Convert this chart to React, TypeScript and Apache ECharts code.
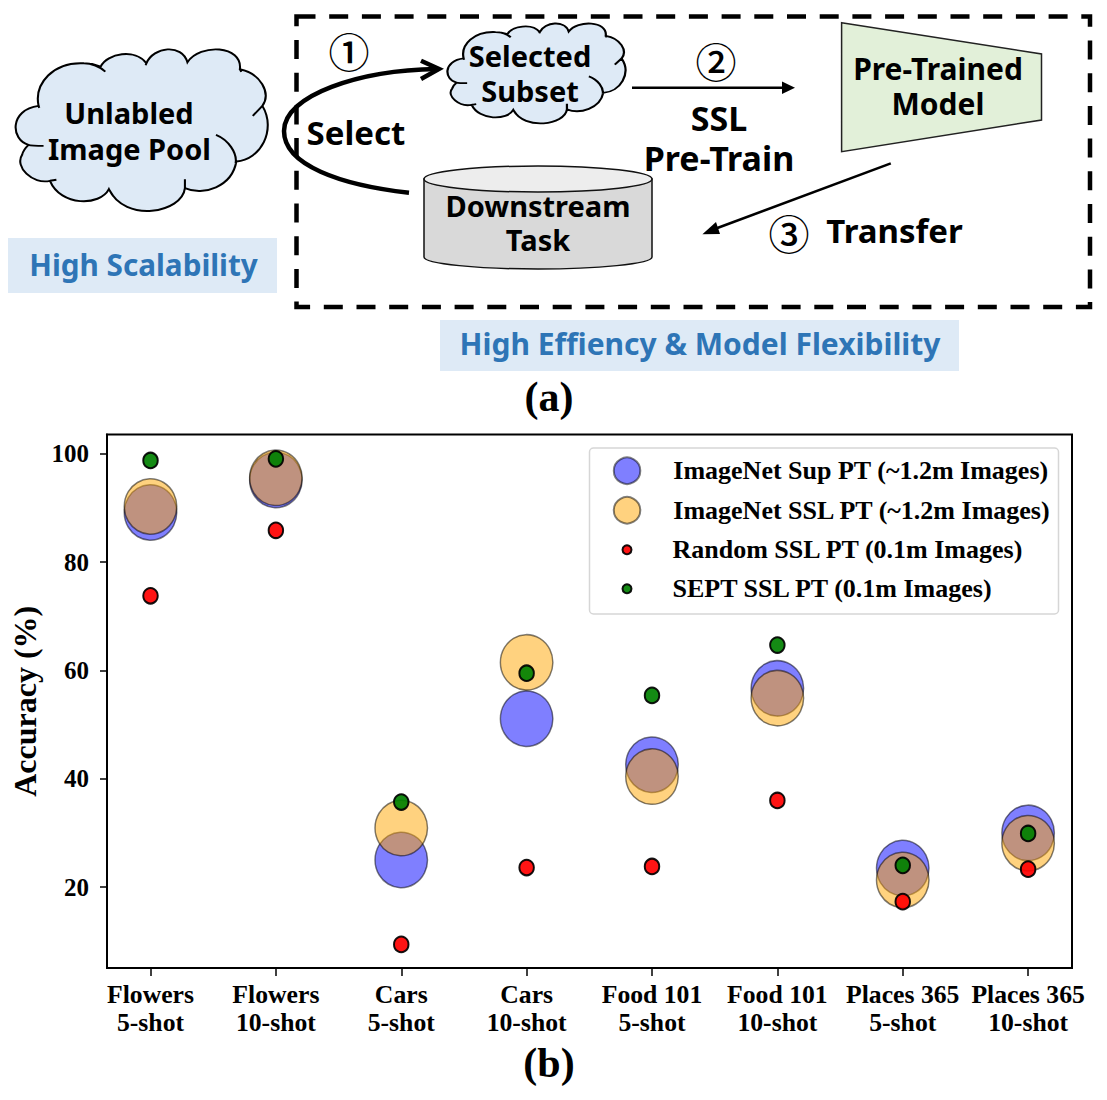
import React, { useEffect, useRef } from "react";
import * as echarts from "echarts";

const categories = [
  "Flowers\n5-shot", "Flowers\n10-shot", "Cars\n5-shot", "Cars\n10-shot",
  "Food 101\n5-shot", "Food 101\n10-shot", "Places 365\n5-shot", "Places 365\n10-shot",
];
const yTicks = [20, 40, 60, 80, 100];
const supValues = [89.2, 95.2, 25.0, 51.1, 42.6, 56.7, 23.5, 30.0];
const sslValues = [90.3, 95.6, 30.9, 61.5, 40.4, 54.9, 21.3, 28.1];
const randomValues = [73.8, 85.9, 9.4, 23.6, 23.8, 36.0, 17.3, 23.3];
const septValues = [98.8, 99.1, 35.7, 59.5, 55.4, 64.7, 24.0, 29.9];
const seriesNames = [
  "ImageNet Sup PT (~1.2m Images)",
  "ImageNet SSL PT (~1.2m Images)",
  "Random SSL PT (0.1m Images)",
  "SEPT SSL PT (0.1m Images)",
];

const CLOUD_D =
  "M108,318 C95,250 150,185 235,190 C255,190 270,195 282,200 C300,160 380,145 410,190 C430,140 510,130 525,187 " +
  "C560,130 680,135 672,208 C730,220 760,280 735,318 C775,390 730,480 662,485 C650,560 570,590 518,565 " +
  "C510,640 350,670 305,568 C280,620 170,620 140,543 C90,555 40,500 62,465 C65,450 75,440 80,435 C30,420 25,330 108,318 Z " +
  "M235,190 C255,190 280,200 295,215 M410,190 L408,196 M672,208 L676,216 M735,318 L708,348 " +
  "M605,405 C640,420 665,460 660,490 M518,565 L518,538 M305,568 L318,590 M140,543 L158,540 " +
  "M78,435 C90,438 105,438 122,438 M108,318 L110,324";
const ARC_D = "M409,192.7 C340,185 284,165 284,131 C284,95 360,70 437,69";
const CYL_D = "M424,179 L424,257 C424,264 480,269 538,269 C596,269 652,264 652,257 L652,179 Z";

echarts.graphic.registerShape("cloudShape", echarts.graphic.extendPath(CLOUD_D as any, {}) as any);
echarts.graphic.registerShape("arcShape", echarts.graphic.extendPath(ARC_D as any, {}) as any);
echarts.graphic.registerShape("cylShape", echarts.graphic.extendPath(CYL_D as any, {}) as any);

const SANS = '"Noto Sans", "Open Sans", sans-serif';
const SERIF = '"Liberation Serif", serif';

function label(text: string, x: number, y: number, size = 29, fill = "#000", family = SANS) {
  return {
    type: "text",
    x,
    y,
    style: {
      text,
      fill,
      font: `bold ${size}px ${family}`,
      lineHeight: Math.min(size, 30),
      textAlign: "center",
      textVerticalAlign: "middle",
    },
  };
}
function circled(text: string, x: number, y: number) {
  return {
    type: "text",
    x,
    y,
    style: { text, fill: "#000", font: `500 41px "Noto Sans CJK SC"`, textAlign: "center", textVerticalAlign: "middle" },
  };
}
function line(x1: number, y1: number, x2: number, y2: number, lineWidth = 2.5) {
  return { type: "line", shape: { x1, y1, x2, y2 }, style: { stroke: "#000", lineWidth } };
}
function polygon(points: number[][], fill: string, stroke?: string, lineWidth = 1) {
  return { type: "polygon", shape: { points }, style: { fill, stroke, lineWidth } };
}
function cloud(x: number, y: number, scaleX: number, scaleY: number) {
  return {
    type: "cloudShape",
    x,
    y,
    scaleX,
    scaleY,
    style: { fill: "#DEEAF6", stroke: "#000", lineWidth: 2, strokeNoScale: true },
  };
}

const diagram: any[] = [
  cloud(0, 0, 1 / 2.8, 1 / 3),
  cloud(436.4, -7.05, 0.706 / 2.8, 0.618 / 3),
  label("Unlabled", 129, 112),
  label("Image Pool", 129.5, 148),
  label("Selected", 530, 55.5),
  label("Subset", 530, 90),
  { type: "rect", shape: { x: 8, y: 238, width: 269, height: 55 }, style: { fill: "#DEEAF6" } },
  label("High Scalability", 143.5, 264.5, 29.7, "#2E75B6"),
  { type: "rect", shape: { x: 440, y: 320, width: 519, height: 51 }, style: { fill: "#DEEAF6" } },
  label("High Effiency & Model Flexibility", 700, 343.5, 30, "#2E75B6"),
  {
    type: "rect",
    shape: { x: 296.5, y: 16.5, width: 793.5, height: 290.5 },
    style: { fill: "none", stroke: "#000", lineWidth: 4.5, lineDash: [19, 13.7] },
  },
  circled("①", 349, 50),
  circled("②", 716, 59.5),
  circled("③", 789, 232),
  { type: "arcShape", style: { fill: "none", stroke: "#000", lineWidth: 4.5 } },
  { type: "polyline", shape: { points: [[421, 60.7], [439, 69], [421, 79]] }, style: { fill: "none", stroke: "#000", lineWidth: 4.5 } },
  label("Select", 356, 132, 33),
  { type: "cylShape", style: { fill: "#D9D9D9", stroke: "#111", lineWidth: 1.5 } },
  { type: "ellipse", shape: { cx: 538, cy: 179, rx: 114, ry: 13 }, style: { fill: "#EDEDED", stroke: "#111", lineWidth: 1.5 } },
  label("Downstream", 538, 205),
  label("Task", 538, 239),
  line(632, 87.7, 785, 87.7),
  polygon([[795, 87.7], [782, 81.5], [782, 94]], "#000"),
  label("SSL", 719, 117.5, 34),
  label("Pre-Train", 719, 157.5, 34),
  polygon([[841.6, 22.7], [1041.5, 54], [1041.5, 120], [841.6, 151.7]], "#E2F0D9", "#222", 1.5),
  label("Pre-Trained", 938, 68, 30),
  label("Model", 938, 103, 30),
  line(890.8, 163.3, 712, 230),
  polygon([[702.4, 234.3], [716, 222], [720, 234]], "#000"),
  label("Transfer", 894.5, 230, 33),
  label("(a)", 549, 397, 42, "#000", SERIF),
  label("(b)", 549, 1063, 42, "#000", SERIF),
  {
    type: "rect",
    z: 3,
    shape: { x: 589.5, y: 448, width: 469, height: 166, r: 4 },
    style: { fill: "rgba(255,255,255,0.8)", stroke: "#d6d6d6", lineWidth: 1.5 },
  },
];

const BIG = [52.5, 55.5];
const SMALL = [14.5, 15.5];

function series(name: string, values: number[], size: number[], color: string, opacity: number, borderWidth: number) {
  return {
    name,
    type: "scatter",
    symbol: "circle",
    symbolSize: size,
    data: categories.map((_, i) => [i, values[i]]),
    itemStyle: { color, opacity, borderColor: "#000", borderWidth },
    emphasis: { disabled: true },
  };
}

function legend(data: string[], left: number, top: number, w: number, h: number, gap: number, pad: number) {
  return {
    data,
    left,
    top,
    orient: "vertical",
    align: "left",
    itemWidth: w,
    itemHeight: h,
    itemGap: gap,
    selectedMode: false,
    padding: 0,
    z: 4,
    textStyle: {
      fontFamily: SERIF,
      fontWeight: "bold",
      fontSize: 26,
      color: "#000",
      padding: [0, 0, 0, pad],
    },
  };
}

export default function App() {
  const ref = useRef<HTMLDivElement>(null);
  useEffect(() => {
    const chart = echarts.init(ref.current!, undefined, { renderer: "svg" });
    chart.setOption({
      animation: false,
      backgroundColor: "#fff",
      grid: {
        left: 107,
        right: 35,
        top: 434.5,
        height: 533.5,
        show: true,
        borderColor: "#000",
        borderWidth: 2,
        backgroundColor: "transparent",
        outerBoundsMode: "none",
      },
      xAxis: {
        type: "value",
        min: -0.347,
        max: 7.35,
        splitLine: { show: false },
        axisLine: { show: true, onZero: false, lineStyle: { color: "#000", width: 2 } },
        axisTick: { show: true, length: 8, lineStyle: { color: "#000", width: 1.5 }, customValues: categories.map((_, i) => i) },
        axisLabel: {
          customValues: categories.map((_, i) => i),
          formatter: (v: number) => categories[v] ?? "",
          fontFamily: SERIF,
          fontWeight: "bold",
          fontSize: 25.7,
          lineHeight: 28,
          color: "#000",
          margin: 12,
        },
      },
      yAxis: {
        type: "value",
        min: 5.04,
        max: 103.6,
        name: "Accuracy (%)",
        nameLocation: "middle",
        nameGap: 58,
        nameTextStyle: { fontFamily: SERIF, fontWeight: "bold", fontSize: 32, color: "#000" },
        splitLine: { show: false },
        axisLine: { show: true, onZero: false, lineStyle: { color: "#000", width: 2 } },
        axisTick: { show: true, length: 7, lineStyle: { color: "#000", width: 1.5 }, customValues: yTicks },
        axisLabel: {
          customValues: yTicks,
          formatter: (v: number) => String(v),
          fontFamily: SERIF,
          fontWeight: "bold",
          fontSize: 25,
          color: "#000",
          margin: 18,
        },
      },
      legend: [
        legend(seriesNames.slice(0, 2), 612.8, 456.5, 26.5, 28.5, 11, 28),
        legend(seriesNames.slice(2), 621.5, 536.7, 9, 9, 13, 36),
      ],
      series: [
        series(seriesNames[0], supValues, BIG, "#0000ff", 0.5, 1.5),
        series(seriesNames[1], sslValues, BIG, "#ffa500", 0.5, 1.5),
        series(seriesNames[2], randomValues, SMALL, "#ff0000", 0.92, 2),
        series(seriesNames[3], septValues, SMALL, "#008000", 0.92, 2),
      ],
      graphic: { elements: diagram },
    });
    return () => chart.dispose();
  }, []);
  return <div ref={ref} style={{ position: "absolute", left: 0, top: 0, width: 1107, height: 1100 }} />;
}
